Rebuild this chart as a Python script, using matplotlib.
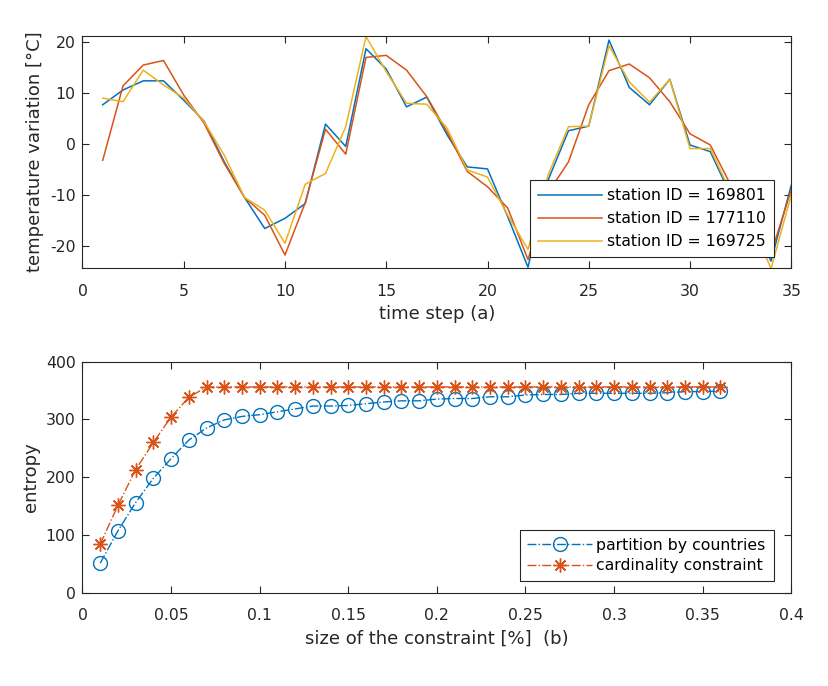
import matplotlib
matplotlib.use("Agg")
import matplotlib.pyplot as plt
from matplotlib.ticker import FuncFormatter

plt.rcParams["font.family"] = ["DejaVu Sans"]
plt.rcParams["axes.unicode_minus"] = False

# --- data (a): temperature variation per time step ---
time_step = list(range(1, 36))
st_169801 = [7.7, 10.6, 12.4, 12.4, 8.6, 4.5, -3.5, -10.5, -16.6, -14.6,
             -11.7, 3.9, -0.5, 18.7, 14.7, 7.3, 9.2, 1.8, -4.5, -4.9,
             -14.3, -24.2, -7.0, 2.6, 3.5, 20.4, 11.1, 7.7, 12.7, -0.2,
             -1.5, -10.0, -15.0, -23.0, -8.1]
st_177110 = [-3.2, 11.4, 15.5, 16.4, 9.6, 4.1, -3.8, -10.5, -14.0, -21.8,
             -11.5, 2.9, -2.0, 17.0, 17.4, 14.5, 9.3, 2.4, -5.4, -8.4,
             -12.6, -22.7, -9.5, -3.5, 7.7, 14.4, 15.7, 13.0, 8.3, 2.0,
             -0.2, -8.0, -14.0, -21.5, -9.0]
st_169725 = [9.0, 8.3, 14.5, 11.6, 9.0, 4.4, -2.2, -10.5, -13.0, -19.5,
             -7.9, -5.8, 3.4, 21.1, 14.2, 8.0, 7.8, 3.1, -5.1, -6.5,
             -14.0, -20.7, -6.0, 3.4, 3.5, 19.3, 12.2, 8.2, 12.7, -0.9,
             -0.9, -9.5, -15.0, -24.5, -10.0]

# --- data (b): entropy vs size of the constraint ---
size_pct = [0.01, 0.02, 0.03, 0.04, 0.05, 0.06, 0.07, 0.08, 0.09, 0.10,
            0.11, 0.12, 0.13, 0.14, 0.15, 0.16, 0.17, 0.18, 0.19, 0.20,
            0.21, 0.22, 0.23, 0.24, 0.25, 0.26, 0.27, 0.28, 0.29, 0.30,
            0.31, 0.32, 0.33, 0.34, 0.35, 0.36]
entropy_countries = [51, 107, 156, 198, 232, 264, 285, 299, 305, 308,
                     313, 318, 323, 323, 324, 327, 330, 332, 332, 335,
                     336, 336, 339, 339, 342, 343, 343, 345, 345, 345,
                     345, 345, 346, 348, 348, 349]
entropy_cardinality = [84, 151, 213, 260, 304, 338, 356, 356, 356, 356,
                       356, 356, 356, 356, 356, 356, 356, 356, 356, 356,
                       356, 356, 356, 356, 356, 356, 356, 356, 356, 356,
                       356, 356, 356, 356, 356, 356]

BLUE = "#0072BD"
ORANGE = "#D95319"
YELLOW = "#EDB120"
GREY = "#262626"
FS = 11.3
LFS = 13

fig = plt.figure(figsize=(8.29, 6.86), dpi=100)
ax1 = fig.add_axes([0.0995, 0.609, 0.855, 0.3385])
ax2 = fig.add_axes([0.0995, 0.136, 0.855, 0.337])


def style(ax):
    for s in ax.spines.values():
        s.set_color(GREY)
        s.set_linewidth(0.8)
    ax.tick_params(direction="in", top=True, right=True, colors=GREY,
                   labelsize=FS, length=5, width=0.8)
    ax.tick_params(axis="x", pad=11)
    ax.tick_params(axis="y", pad=5)


def legend(ax, y0, spacing):
    leg = ax.legend(loc="lower right", bbox_to_anchor=(0.975, y0),
                    borderaxespad=0, fontsize=FS, fancybox=False,
                    framealpha=1, edgecolor=GREY, handlelength=4.1,
                    labelspacing=spacing, borderpad=0.5, handletextpad=0.3)
    leg.get_frame().set_linewidth(0.8)


# (a)
ax1.plot(time_step, st_169801, color=BLUE, lw=1.1, label="station ID = 169801")
ax1.plot(time_step, st_177110, color=ORANGE, lw=1.1, label="station ID = 177110")
ax1.plot(time_step, st_169725, color=YELLOW, lw=1.1, label="station ID = 169725")
ax1.set_xlim(0, 35)
ax1.set_ylim(-24.4, 21.2)
ax1.set_xticks([0, 5, 10, 15, 20, 25, 30, 35])
ax1.set_yticks([-20, -10, 0, 10, 20])
ax1.set_xlabel("time step (a)", fontsize=LFS, color=GREY, labelpad=5)
ax1.set_ylabel("temperature variation [°C]", fontsize=LFS, color=GREY,
               labelpad=4)
style(ax1)
legend(ax1, 0.049, 0.5)

# (b)
ax2.plot(size_pct, entropy_countries, color=BLUE, lw=1.0, ls="-.",
         marker="o", markersize=10, markerfacecolor="none",
         markeredgewidth=1.0, label="partition by countries")
ax2.plot(size_pct, entropy_cardinality, color=ORANGE, lw=1.0, ls="-.",
         marker=(8, 2, 0), markersize=10, markeredgewidth=1.0,
         label="cardinality constraint")
ax2.set_xlim(0, 0.4)
ax2.set_ylim(0, 400)
ax2.set_xticks([0, 0.05, 0.1, 0.15, 0.2, 0.25, 0.3, 0.35, 0.4])
ax2.set_yticks([0, 100, 200, 300, 400])
ax2.xaxis.set_major_formatter(FuncFormatter(lambda v, p: "%g" % round(v, 2)))
ax2.set_xlabel("size of the constraint [%]  (b)", fontsize=LFS, color=GREY,
               labelpad=5)
ax2.set_ylabel("entropy", fontsize=LFS, color=GREY, labelpad=4)
style(ax2)
legend(ax2, 0.051, 0.35)

fig.savefig("out.png", dpi=100)
